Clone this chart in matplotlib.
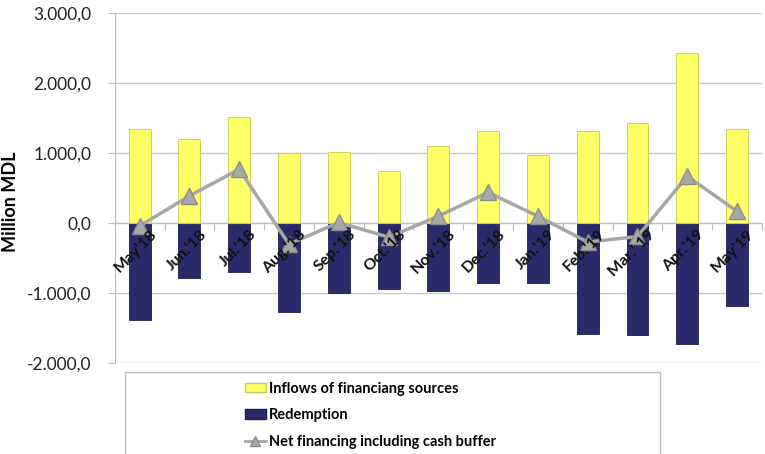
import matplotlib.pyplot as plt
import matplotlib.patches as mpatches
from matplotlib.lines import Line2D
from matplotlib.ticker import FuncFormatter

# Data (million MDL)
months = ["May'18", "Jun.'18", "Jul.'18", "Aug.'18", "Sep.'18", "Oct.'18", "Nov.'18",
          "Dec.'18", "Jan.'19", "Feb.'19", "Mar.' 19", "Apr.'19", "May'19"]
inflows = [1343, 1200, 1514, 1000, 1010, 743, 1100, 1314, 971, 1314, 1429, 2429, 1343]
redemption = [-1386, -786, -700, -1271, -1000, -943, -970, -857, -857, -1586, -1600, -1729, -1186]
net_financing = [-40, 390, 770, -300, 10, -200, 100, 440, 100, -270, -190, 670, 170]

yellow = "#FFFF66"
navy = "#2B2B6B"
grey = "#A6A6A6"

plt.rcParams['font.family'] = ['Lato', 'DejaVu Sans']

fig = plt.figure(figsize=(7.65, 4.54), dpi=100)
ax = fig.add_axes([0.150, 0.200, 0.846, 0.771])

x = list(range(len(months)))
ax.bar(x, inflows, width=0.44, color=yellow, edgecolor="#C8C850", linewidth=0.6, zorder=2)
ax.bar(x, redemption, width=0.44, color=navy, edgecolor="#1E1E4A", linewidth=0.6, zorder=2)
ax.plot(x, net_financing, color=grey, linewidth=2.5, marker="^", markersize=11,
        markerfacecolor="#A8A8A8", markeredgecolor="#8C8C8C", zorder=4)

ax.set_xlim(-0.5, len(months) - 0.5)
ax.set_ylim(-2000, 3000)
ax.set_yticks(range(-2000, 3001, 1000))

def euro_fmt(v, pos):
    s = f"{v:,.1f}"
    return s.replace(",", "X").replace(".", ",").replace("X", ".")

ax.yaxis.set_major_formatter(FuncFormatter(euro_fmt))
ax.tick_params(axis="y", labelsize=12.5, colors="#BBBBBB", labelcolor="#222222",
               length=5, direction="out", pad=12)
ax.grid(axis="y", color="#C8C8C8", linewidth=1, zorder=0)
ax.set_ylabel("Million MDL", fontsize=13, fontweight="bold")
ax.yaxis.set_label_coords(-0.148, 0.46)

# category axis crossing at zero, ticks between categories
for s in ["top", "right"]:
    ax.spines[s].set_visible(False)
ax.spines["left"].set_color("#BBBBBB")
ax.spines["bottom"].set_position(("data", 0))
ax.spines["bottom"].set_color("#BBBBBB")
ax.spines["bottom"].set_zorder(3)
ax.set_xticks([i - 0.5 for i in range(len(months) + 1)])
ax.set_xticklabels([])
ax.tick_params(axis="x", length=5, color="#BBBBBB", direction="out")

for i, lab in enumerate(months):
    ax.text(i + 0.2, -60, lab, rotation=45, rotation_mode="anchor", ha="right", va="top",
            fontsize=11.5, fontweight="bold", color="#111111", zorder=5)

# legend box
box = mpatches.Rectangle((0.163, -0.05), 0.700, 0.231, transform=fig.transFigure,
                         facecolor="white", edgecolor="#BBBBBB", linewidth=1)
fig.patches.append(box)
handles = [
    mpatches.Patch(facecolor=yellow, edgecolor="#C8C850", label="Inflows of financiang sources"),
    mpatches.Patch(facecolor=navy, edgecolor="#1E1E4A", label="Redemption"),
    Line2D([0], [0], color=grey, linewidth=2, marker="^", markersize=7,
           markerfacecolor="#A8A8A8", markeredgecolor="#8C8C8C",
           label="Net financing including cash buffer"),
]
fig.legend(handles=handles, loc="upper left", bbox_to_anchor=(0.313, 0.172), frameon=False,
           prop={"weight": "bold", "size": 10.5}, handlelength=1.4, handleheight=0.6,
           handletextpad=0.2, labelspacing=0.85, borderaxespad=0)

fig.savefig("out.png", dpi=100)
